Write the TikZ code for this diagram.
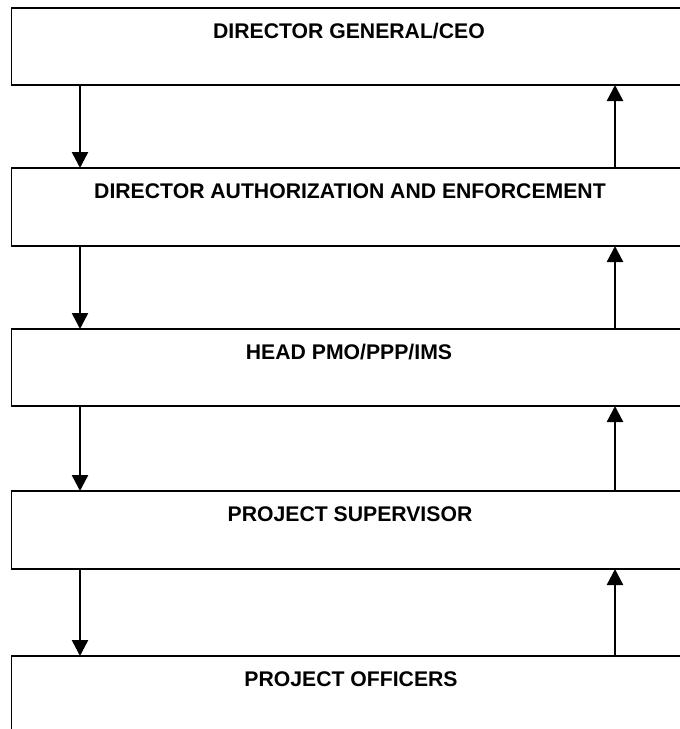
\documentclass[tikz,border=0pt]{standalone}
\usepackage{fontspec}
\setmainfont{Liberation Sans}
\usetikzlibrary{arrows.meta}
\begin{document}
\begin{tikzpicture}[x=1pt,y=-1pt,
  level/.style={draw=black, line width=1.8pt, rectangle, anchor=north west,
    minimum width=674pt, inner sep=0pt, outer sep=0pt},
  title/.style={anchor=base, inner sep=0pt, font=\fontsize{21.2}{25}\bfseries\selectfont},
  flow/.style={line width=2.4pt, -{Triangle[length=16pt,width=16pt]}}]
\useasboundingbox (0,0) rectangle (680,729);
\fill[white] (0,0) rectangle (680,729);
\clip (0,0) rectangle (680,729);
% the five levels of the chain
\node[level, minimum height=77pt] (b1) at (11.5,8) {};
\node[level, minimum height=78pt] (b2) at (11.5,168) {};
\node[level, minimum height=77pt] (b3) at (11.5,329) {};
\node[level, minimum height=78pt] (b4) at (11.5,491) {};
\node[level, minimum height=90pt] (b5) at (11.5,656) {};
% titles
\node[title] (t1) at (349,38) {DIRECTOR GENERAL/CEO};
\node[title] (t2) at (350,198) {DIRECTOR AUTHORIZATION AND ENFORCEMENT};
\node[title] (t3) at (349,359) {HEAD PMO/PPP/IMS};
\node[title] (t4) at (350,521) {PROJECT SUPERVISOR};
\node[title] (t5) at (351,686) {PROJECT OFFICERS};
% downward and upward channels
\coordinate (dn) at (80,0);
\coordinate (up) at (615,0);
\foreach \a/\b in {b1/b2,b2/b3,b3/b4,b4/b5}{
  \draw[flow] (\a.south -| dn) -- (\b.north -| dn);
  \draw[flow] (\b.north -| up) -- (\a.south -| up);
}
\end{tikzpicture}
\end{document}
